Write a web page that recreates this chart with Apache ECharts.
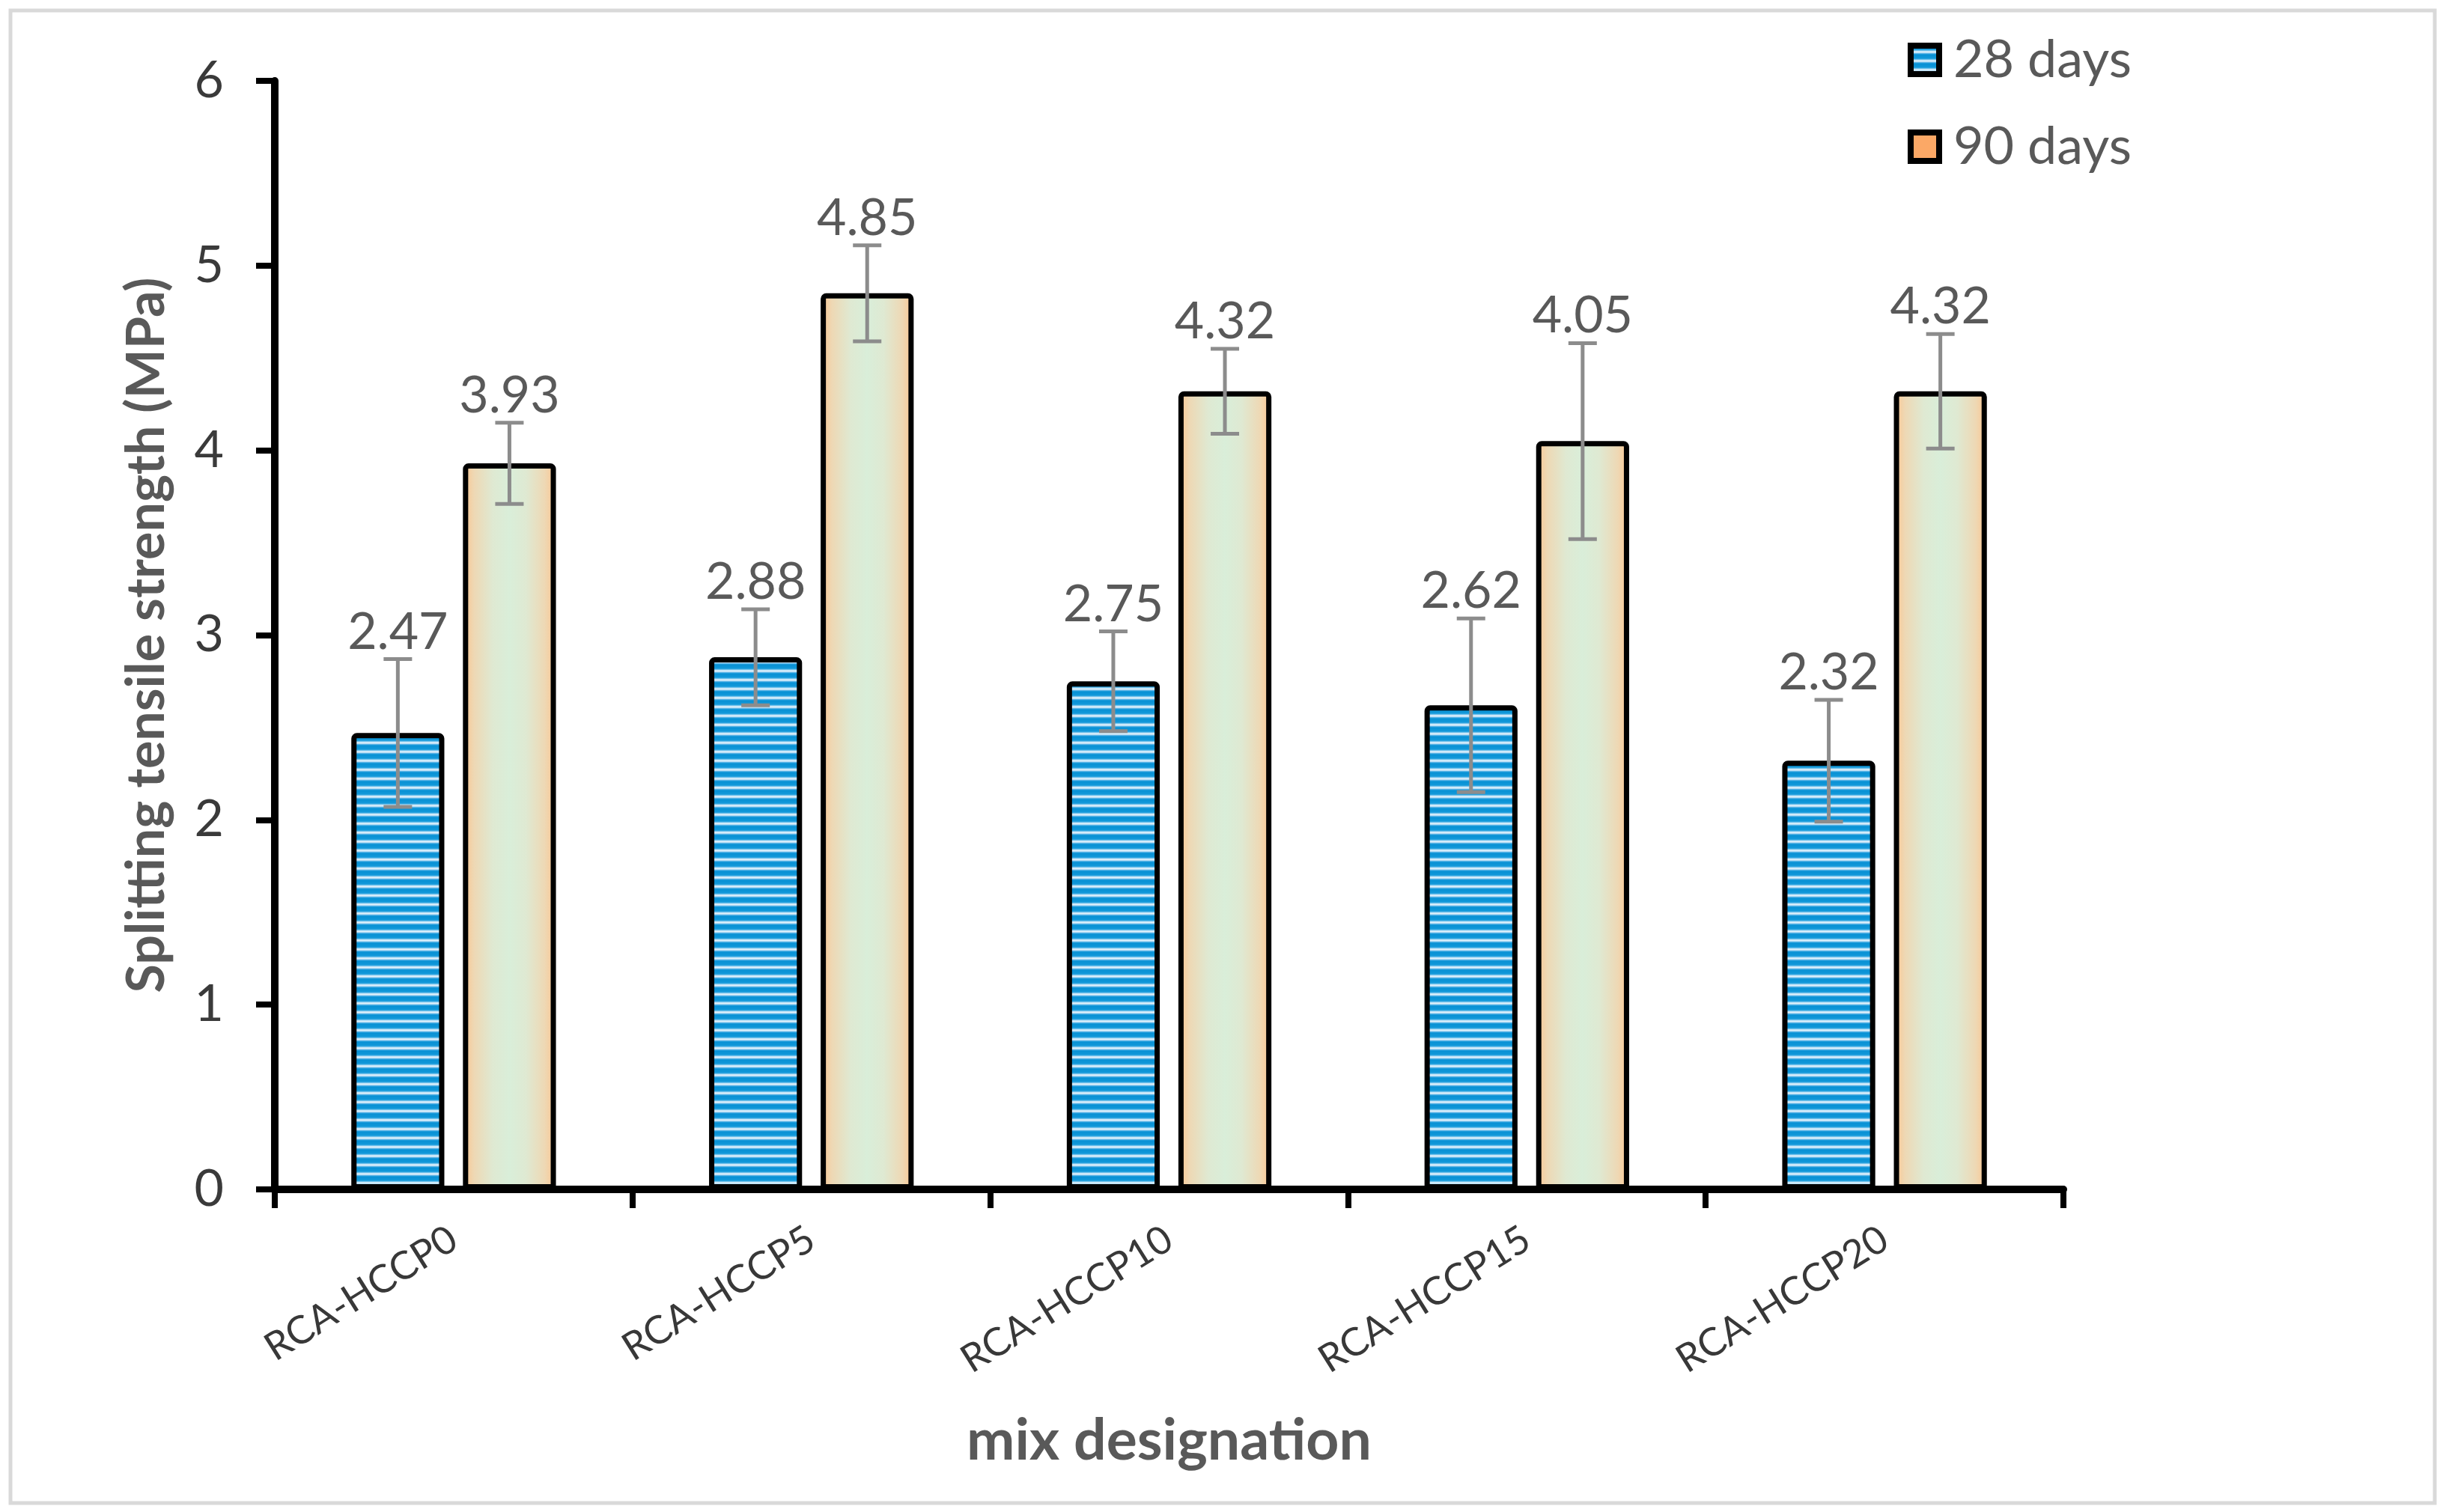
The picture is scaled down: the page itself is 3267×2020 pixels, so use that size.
<!DOCTYPE html>
<html>
<head>
<meta charset="utf-8">
<script src="https://cdn.jsdelivr.net/npm/echarts@6/dist/echarts.min.js"></script>
<style>
html,body{margin:0;padding:0;background:#fff;}
#main{width:3267px;height:2020px;}
</style>
</head>
<body>
<div id="main"></div>
<script>
const categories = ['RCA-HCCP0', 'RCA-HCCP5', 'RCA-HCCP10', 'RCA-HCCP15', 'RCA-HCCP20'];
const days28 = [2.47, 2.88, 2.75, 2.62, 2.32];
const days90 = [3.93, 4.85, 4.32, 4.05, 4.32];
const err28 = [0.40, 0.26, 0.27, 0.47, 0.33];
const err90 = [0.22, 0.26, 0.23, 0.53, 0.31];
const yTicks = [0, 1, 2, 3, 4, 5, 6];

// striped blue pattern
const pc = document.createElement('canvas');
pc.width = 8; pc.height = 12;
const pctx = pc.getContext('2d');
const rows = ['#0a92d5','#0a92d5','#0d95d7','#0d95d7','#1499da','#2aa3de','#74c2eb','#c0e3f7','#e0f1fb','#b2dbf4','#5db5e6','#1e9cdb'];
rows.forEach((c, r) => { pctx.fillStyle = c; pctx.fillRect(0, r, 8, 1); });

const orangeGrad = new echarts.graphic.LinearGradient(0, 0, 1, 0, [
  {offset: 0, color: '#fcc48e'},
  {offset: 0.12, color: '#eed8b4'},
  {offset: 0.32, color: '#dfe9d2'},
  {offset: 0.5, color: '#d9eed9'},
  {offset: 0.68, color: '#dfe9d2'},
  {offset: 0.88, color: '#eed8b4'},
  {offset: 1, color: '#fcc48e'}
]);

function errRender(sign) {
  return function (params, api) {
    const i = api.value(0), v = api.value(1), e = api.value(2);
    const band = api.size([1, 0])[0];
    const bw = band * 0.26, gap = bw * 0.2;
    const off = sign * (bw + gap) / 2;
    const x = api.coord([i, v])[0] + off;
    const top = api.coord([i, v + e])[1];
    const bot = api.coord([i, v - e])[1];
    const cap = 19;
    const st = {stroke: '#8c8c8c', lineWidth: 5};
    return {
      type: 'group',
      children: [
        {type: 'line', shape: {x1: x, y1: top, x2: x, y2: bot}, style: st},
        {type: 'line', shape: {x1: x - cap, y1: top, x2: x + cap, y2: top}, style: st},
        {type: 'line', shape: {x1: x - cap, y1: bot, x2: x + cap, y2: bot}, style: st},
        {type: 'text', x: x, y: top - 2, style: {
          text: v.toFixed(2), fontSize: 68, fontFamily: 'Lato', fill: '#595959',
          align: 'center', verticalAlign: 'bottom'
        }}
      ]
    };
  };
}

const chart = echarts.init(document.getElementById('main'));
chart.setOption({
  animation: false,
  backgroundColor: '#fff',
  graphic: [{
    type: 'rect', shape: {x: 14, y: 14, width: 3238, height: 1994},
    style: {fill: 'none', stroke: '#d9d9d9', lineWidth: 5}, silent: true
  }],
  grid: {left: 367, right: 511, top: 108, bottom: 431},
  legend: {
    orient: 'vertical',
    left: 2543, top: 40,
    itemWidth: 38, itemHeight: 38, itemGap: 46,
    icon: 'rect',
    itemStyle: {borderColor: '#000', borderWidth: 8},
    textStyle: {fontFamily: 'Lato', fontSize: 70, color: '#595959', lineHeight: 66, padding: [0, 0, 0, 14]},
    data: [
      {name: '28 days'},
      {name: '90 days', itemStyle: {color: '#fba866', borderColor: '#000', borderWidth: 8}}
    ]
  },
  xAxis: {
    type: 'category',
    data: categories,
    name: 'mix designation',
    nameLocation: 'middle',
    nameGap: 298,
    nameTextStyle: {fontFamily: 'Lato', fontWeight: 'bold', fontSize: 77, color: '#595959'},
    axisLine: {lineStyle: {color: '#000', width: 10}},
    axisTick: {show: true, inside: false, length: 25, alignWithLabel: false, lineStyle: {color: '#000', width: 8}},
    axisLabel: {rotate: 32, margin: 62, fontFamily: 'Lato', fontSize: 52, color: '#383838'},
    splitLine: {show: false}
  },
  yAxis: {
    type: 'value',
    min: yTicks[0], max: yTicks[yTicks.length - 1], interval: 1,
    name: 'Splitting tensile strength (MPa)',
    nameLocation: 'middle',
    nameGap: 136,
    nameRotate: 90,
    nameTextStyle: {fontFamily: 'Lato', fontWeight: 'bold', fontSize: 70, color: '#595959'},
    axisLine: {show: true, lineStyle: {color: '#000', width: 10}},
    axisTick: {show: true, inside: false, length: 25, lineStyle: {color: '#000', width: 8}},
    axisLabel: {margin: 68, fontFamily: 'Lato', fontSize: 68, color: '#3a3a3a'},
    splitLine: {show: false}
  },
  series: [
    {
      name: '28 days', type: 'bar', data: days28,
      barWidth: '26%', barGap: '20%',
      itemStyle: {color: {image: pc, repeat: 'repeat'}, borderColor: '#000', borderWidth: 7, borderRadius: [4, 4, 0, 0]}
    },
    {
      name: '90 days', type: 'bar', data: days90,
      barWidth: '26%', barGap: '20%',
      itemStyle: {color: orangeGrad, borderColor: '#000', borderWidth: 7, borderRadius: [4, 4, 0, 0]}
    },
    {
      type: 'custom', renderItem: errRender(-1), z: 5,
      data: categories.map((c, i) => [i, days28[i], err28[i]])
    },
    {
      type: 'custom', renderItem: errRender(1), z: 5,
      data: categories.map((c, i) => [i, days90[i], err90[i]])
    }
  ]
});
</script>
</body>
</html>
